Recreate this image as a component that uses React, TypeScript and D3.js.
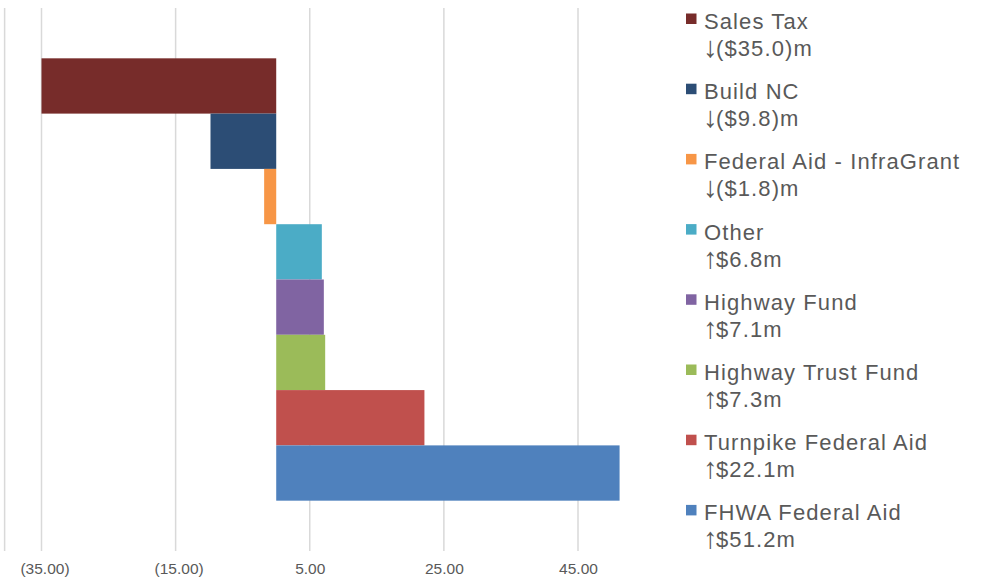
import React, { useEffect, useRef } from 'react';
import * as d3 from 'd3';

const categories = [
  'Sales Tax',
  'Build NC',
  'Federal Aid - InfraGrant',
  'Other',
  'Highway Fund',
  'Highway Trust Fund',
  'Turnpike Federal Aid',
  'FHWA Federal Aid',
];
const values = [-35.0, -9.8, -1.8, 6.8, 7.1, 7.3, 22.1, 51.2];
const arrows = ['↓', '↓', '↓', '↑', '↑', '↑', '↑', '↑'];
const legendSub = ['($35.0)m', '($9.8)m', '($1.8)m', '$6.8m', '$7.1m', '$7.3m', '$22.1m', '$51.2m'];
const colors = ['#772C2A', '#2C4D75', '#F79646', '#4BACC6', '#8064A2', '#9BBB59', '#C0504D', '#4F81BD'];
const tickValues = [-35, -15, 5, 25, 45];

const fmt = (v: number) => (v < 0 ? `(${d3.format('.2f')(-v)})` : d3.format('.2f')(v));

const App: React.FC = () => {
  const svgRef = useRef<SVGSVGElement>(null);

  useEffect(() => {
    document.body.style.margin = '0';
    if (!svgRef.current) return;
    const svg = d3.select(svgRef.current);
    svg.selectAll('*').remove();

    const top = 8;
    const bottom = 551;
    const font = '"Liberation Sans", Arial, sans-serif';
    const x = d3.scaleLinear().domain([-35, 45]).range([41.5, 578]);
    const y = d3
      .scaleBand()
      .domain(categories)
      .range([top, bottom])
      .paddingInner(0)
      .paddingOuter(0.91);

    const data = categories.map((c, i) => ({
      name: c,
      value: values[i],
      color: colors[i],
      arrow: arrows[i],
      sub: legendSub[i],
    }));

    // left axis line
    svg
      .append('line')
      .attr('x1', x(-40.5))
      .attr('x2', x(-40.5))
      .attr('y1', top)
      .attr('y2', bottom)
      .attr('stroke', '#D9D9D9')
      .attr('stroke-width', 1.5);

    // grid
    svg
      .append('g')
      .selectAll('line')
      .data(tickValues)
      .enter()
      .append('line')
      .attr('x1', (d) => x(d))
      .attr('x2', (d) => x(d))
      .attr('y1', top)
      .attr('y2', bottom)
      .attr('stroke', '#D9D9D9')
      .attr('stroke-width', 1.5);

    // bars
    svg
      .append('g')
      .selectAll('rect')
      .data(data)
      .enter()
      .append('rect')
      .attr('x', (d) => x(Math.min(0, d.value)))
      .attr('y', (d) => y(d.name) || 0)
      .attr('width', (d) => Math.abs(x(d.value) - x(0)))
      .attr('height', y.bandwidth())
      .attr('fill', (d) => d.color);

    // tick labels
    svg
      .append('g')
      .selectAll('text')
      .data(tickValues)
      .enter()
      .append('text')
      .attr('x', (d) => x(d) + (d < 0 ? 3.5 : 0.5))
      .attr('y', 574)
      .attr('text-anchor', 'middle')
      .attr('font-family', font)
      .attr('font-size', 15.5)
      .attr('fill', '#595959')
      .text((d) => fmt(d));

    // legend
    const legend = svg
      .append('g')
      .selectAll('g')
      .data(data)
      .enter()
      .append('g')
      .attr('transform', (d, i) => `translate(0,${29 + i * 70.2})`);

    legend
      .append('rect')
      .attr('x', 686)
      .attr('y', -15.5)
      .attr('width', 10.5)
      .attr('height', 10.5)
      .attr('fill', (d) => d.color);

    legend
      .append('text')
      .attr('x', 704)
      .attr('y', 0)
      .attr('font-family', font)
      .attr('font-size', 22)
      .attr('letter-spacing', 1.1)
      .attr('fill', '#595959')
      .text((d) => d.name);

    const sub = legend
      .append('text')
      .attr('x', 703)
      .attr('y', 27)
      .attr('font-family', font)
      .attr('font-size', 22)
      .attr('fill', '#595959');
    sub
      .append('tspan')
      .attr('font-size', 29)
      .attr('letter-spacing', -1.5)
      .attr('dy', 1)
      .text((d) => d.arrow);
    sub
      .append('tspan')
      .attr('dy', -1)
      .attr('letter-spacing', 1.1)
      .text((d) => d.sub);
  }, []);

  return <svg ref={svgRef} width={999} height={579} style={{ display: 'block' }} />;
};

export default App;
